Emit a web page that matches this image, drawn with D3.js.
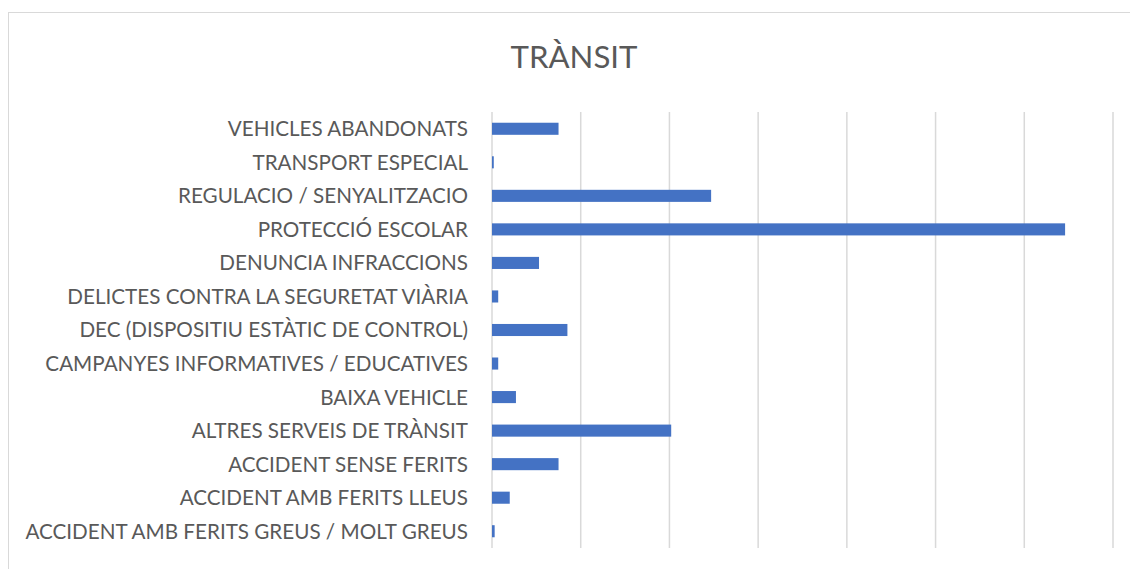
<!DOCTYPE html>
<html>
<head>
<meta charset="utf-8">
<script src="https://cdn.jsdelivr.net/npm/d3@7"></script>
<style>
  html, body { margin: 0; padding: 0; background: #fff; }
  svg text { font-family: Lato, "Open Sans", sans-serif; fill: #595959; }
</style>
</head>
<body>
<svg id="chart" width="1130" height="569"></svg>
<script>
// categories top to bottom, as shown
const categories = [
  'VEHICLES ABANDONATS',
  'TRANSPORT ESPECIAL',
  'REGULACIO / SENYALITZACIO',
  'PROTECCIÓ ESCOLAR',
  'DENUNCIA INFRACCIONS',
  'DELICTES CONTRA LA SEGURETAT VIÀRIA',
  'DEC (DISPOSITIU ESTÀTIC DE CONTROL)',
  'CAMPANYES INFORMATIVES / EDUCATIVES',
  'BAIXA VEHICLE',
  'ALTRES SERVEIS DE TRÀNSIT',
  'ACCIDENT SENSE FERITS',
  'ACCIDENT AMB FERITS LLEUS',
  'ACCIDENT AMB FERITS GREUS / MOLT GREUS'
];
const values = [75, 2, 247, 646, 53, 7, 85, 7, 27, 202, 75, 20, 3];
const xTicks = [0, 100, 200, 300, 400, 500, 600, 700];
const title = 'TRÀNSIT';

const svg = d3.select('#chart');
const margin = { top: 112, right: 17, bottom: 21, left: 492 };
const width = 1130, height = 569;

// chart frame (only top and left edges are inside the picture)
svg.append('rect')
  .attr('x', 8.5).attr('y', 12.5)
  .attr('width', 1130).attr('height', 600)
  .attr('fill', 'none')
  .attr('stroke', '#d9d9d9')
  .attr('stroke-width', 1);

const x = d3.scaleLinear()
  .domain([0, d3.max(xTicks)])
  .range([margin.left, width - margin.right]);

const y = d3.scaleBand()
  .domain(categories)
  .range([margin.top, height - margin.bottom])
  .paddingInner(0.64)
  .paddingOuter(0.32);

// gridlines
svg.append('g')
  .selectAll('line')
  .data(xTicks)
  .join('line')
  .attr('x1', d => x(d)).attr('x2', d => x(d))
  .attr('y1', margin.top).attr('y2', height - margin.bottom)
  .attr('stroke', '#d9d9d9')
  .attr('stroke-width', 1.5);

// bars
svg.append('g')
  .selectAll('rect')
  .data(values)
  .join('rect')
  .attr('x', x(0))
  .attr('y', (d, i) => y(categories[i]))
  .attr('width', d => x(d) - x(0))
  .attr('height', y.bandwidth())
  .attr('fill', '#4472c4');

// category labels, sized so the longest matches the reference width
const labels = svg.append('g')
  .selectAll('text')
  .data(categories)
  .join('text')
  .attr('text-anchor', 'end')
  .attr('x', 468)
  .style('font-size', '20px')
  .text(d => d);

const longest = d3.max(labels.nodes(), n => n.getComputedTextLength());
const labelSize = 20 * 443 / longest;
const bandStep = y.step();
labels
  .style('font-size', labelSize + 'px')
  .attr('y', d => y(d) + y.bandwidth() / 2 + labelSize * 0.36);

// title
const t = svg.append('text')
  .attr('text-anchor', 'middle')
  .attr('x', 574)
  .style('font-size', '30px')
  .text(title);
const titleSize = 30 * 127 / t.node().getComputedTextLength();
t.style('font-size', titleSize + 'px')
  .attr('y', 68);
</script>
</body>
</html>
